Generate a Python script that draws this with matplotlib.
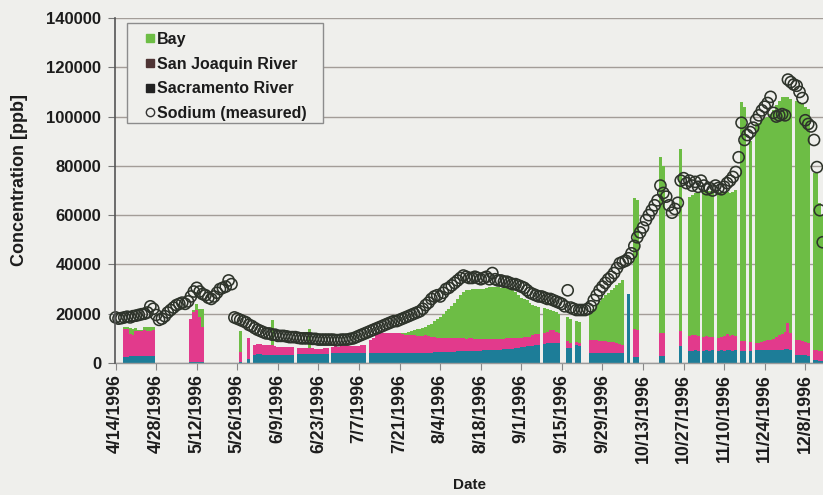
import numpy as np
import matplotlib
matplotlib.use("Agg")
import matplotlib.pyplot as plt
from matplotlib.lines import Line2D
from matplotlib.patches import Rectangle

# ---------------- data (day index 0 = 4/14/1996) ----------------
TICK_DAYS = [0, 14, 28, 42, 56, 70, 84, 98, 112, 126, 140, 154, 168, 182, 196, 210, 224, 238]
TICK_LABELS = ["4/14/1996", "4/28/1996", "5/12/1996", "5/26/1996", "6/9/1996", "6/23/1996",
               "7/7/1996", "7/21/1996", "8/4/1996", "8/18/1996", "9/1/1996", "9/15/1996",
               "9/29/1996", "10/13/1996", "10/27/1996", "11/10/1996", "11/24/1996", "12/8/1996"]

SODIUM = [
    18500, 18000, 18200, 18500, 18800, 18500, 19000, 19200, 19500, 19800,
    20000, 20500, 23000, 22000, 19500, 17500, 18000, 19000, 20500, 21500,
    22500, 23500, 24000, 24500, 24000, 25000, 27000, 29000, 30500, 29000,
    28000, 27500, 26500, 26000, 27000, 28500, 30000, 30500, 31000, 33500,
    32000, 18500, 18000, 17500, 17000, 16500, 15500, 15000, 14200, 13500,
    13000, 12500, 12000, 12000, 11500, 11500, 11000, 11000, 11000, 10800,
    10500, 10500, 10500, 10200, 10000, 10000, 10000, 10000, 9800, 9800,
    9500, 9500, 9500, 9500, 9500, 9500, 9300, 9300, 9500, 9500,
    9500, 9800, 10000, 10500, 11000, 11500, 12000, 12500, 13000, 13500,
    14000, 14500, 15000, 15500, 16000, 16500, 17000, 17000, 17500, 18000,
    18500, 19000, 19500, 20000, 20500, 21000, 22000, 23500, 24500, 26000,
    27000, 27500, 27000, 28500, 30000, 30500, 31500, 32500, 33500, 34500,
    35500, 35000, 34500, 34500, 35000, 34500, 34000, 34500, 35000, 34000,
    36500, 34000, 33500, 33500, 33000, 33000, 32500, 32000, 32000, 31500,
    31000, 30500, 29500, 28500, 28000, 27500, 27000, 27000, 26500, 26000,
    26000, 25500, 25000, 24500, 24000, 23000, 29500, 22500, 22000, 21500,
    21500, 21500, 21500, 22000, 23000, 25500, 27500, 29500, 31000, 32500,
    34000, 35000, 36500, 38500, 40500, 41000, 41500, 42500, 44500, 47500,
    51000, 53000, 55000, 58000, 60000, 62000, 64000, 66000, 72000, 69000,
    67500, 64000, 61000, 62500, 65000, 74000, 75000, 73000, 74000, 72000,
    73500, 71500, 74000, 72000, 70500, 71000, 70000, 72000, 71000, 70500,
    71500, 73000, 74000, 75500, 77500, 83500, 97500, 90500, 92500, 93700,
    95500, 98600, 100500, 102500, 104000, 105500, 108000, 101500, 100000, 100500,
    101000, 100500, 115000, 114000, 113000, 112500, 110000, 107500, 98500, 97000,
    96000, 90500, 79500, 62000, 49000,
]

SACRAMENTO = [
    0, 0, 0, 2500, 2500, 2800, 2800, 3000, 3000, 3000,
    2800, 2800, 2800, 3000, 0, 0, 0, 0, 0, 0,
    0, 0, 0, 0, 0, 0, 500, 500, 500, 500,
    500, 0, 0, 0, 0, 0, 0, 0, 0, 0,
    0, 0, 0, 500, 0, 0, 1500, 0, 3400, 3500,
    3500, 3300, 3300, 3400, 3400, 3300, 3200, 3200, 3300, 3300,
    3400, 3400, 0, 3600, 3700, 3700, 3800, 3700, 3700, 3600,
    3700, 3800, 3700, 3800, 0, 4000, 4000, 3900, 4000, 4000,
    4100, 4000, 4000, 4100, 4000, 4000, 4000, 0, 4000, 4000,
    4000, 4100, 4000, 4000, 4100, 4000, 4000, 4000, 4100, 4000,
    4000, 4000, 4100, 4000, 4000, 4100, 4000, 4200, 4200, 4200,
    4300, 4300, 4400, 4400, 4500, 4500, 4600, 4600, 4700, 4700,
    4800, 4800, 4800, 4900, 4900, 5000, 5000, 5100, 5100, 5200,
    5200, 5300, 5300, 5400, 5500, 5600, 5700, 5800, 6000, 6200,
    6300, 6500, 6700, 6900, 7000, 7200, 7400, 0, 7800, 8000,
    8100, 8200, 8300, 8200, 0, 0, 6000, 6000, 0, 7500,
    7000, 0, 0, 0, 4000, 4000, 4100, 4000, 4000, 4100,
    4000, 4000, 4100, 4000, 4000, 4000, 0, 28000, 0, 2500,
    2500, 0, 0, 0, 0, 0, 0, 0, 3000, 3000,
    0, 0, 0, 0, 0, 7000, 0, 0, 5000, 5000,
    5200, 5000, 0, 5000, 5200, 5000, 5100, 0, 5000, 5200,
    5000, 5100, 5200, 5000, 5100, 0, 5000, 5000, 0, 5000,
    0, 5300, 5300, 5200, 5300, 5400, 5300, 5400, 5400, 5300,
    5400, 5500, 5600, 5300, 0, 3300, 3300, 3200, 3200, 3000,
    0, 1200, 1200, 1000, 1000,
]

SAN_JOAQUIN = [
    0, 0, 0, 11500, 11500, 9000, 8500, 10000, 10000, 10000,
    10500, 10000, 10000, 10500, 0, 0, 0, 0, 0, 0,
    0, 0, 0, 0, 0, 0, 17500, 20000, 21000, 18000,
    14000, 0, 0, 0, 0, 0, 0, 0, 0, 0,
    0, 0, 0, 4000, 0, 0, 8500, 0, 4000, 4200,
    4300, 4200, 4000, 4100, 4000, 3500, 3300, 3200, 3000, 3100,
    3000, 3000, 0, 2500, 2400, 2300, 2400, 2200, 2300, 2200,
    2100, 2000, 2200, 2100, 0, 2600, 2800, 2700, 2800, 2900,
    2800, 2700, 2800, 2900, 3000, 3200, 3500, 0, 5500, 6000,
    8000, 8200, 8100, 8300, 8200, 8000, 8100, 8200, 8000, 7600,
    7500, 7400, 7300, 7200, 7000, 7000, 7100, 7000, 6800, 6500,
    6200, 6000, 5800, 5600, 5500, 5700, 5400, 5500, 5300, 5300,
    5200, 5000, 5200, 5100, 5000, 4800, 4900, 4700, 4800, 4600,
    4700, 4600, 4500, 4500, 4400, 4500, 4300, 4300, 4200, 4000,
    4000, 3900, 3800, 3800, 4200, 4400, 4300, 0, 4400, 4500,
    5200, 5200, 4200, 4000, 0, 0, 3000, 2000, 0, 1000,
    1000, 0, 0, 0, 5500, 5300, 5200, 5000, 5000, 4800,
    4600, 4500, 4300, 4000, 3800, 3500, 0, 0, 0, 11500,
    11000, 0, 0, 0, 0, 0, 0, 0, 9000, 9000,
    0, 0, 0, 0, 0, 6000, 0, 0, 6000, 6200,
    6000, 5800, 0, 5500, 5700, 5500, 5400, 0, 5200, 5500,
    5800, 6500, 5800, 6200, 6000, 0, 4000, 3800, 0, 3500,
    0, 2800, 3000, 3200, 3500, 4000, 4200, 4500, 5000, 6000,
    6500, 7000, 10500, 7000, 0, 6200, 6000, 5800, 5500, 5000,
    0, 4200, 4200, 4000, 4000,
]

BAY = [
    0, 0, 0, 500, 500, 2500, 2500, 1000, 500, 500,
    1500, 2000, 2000, 1000, 0, 0, 0, 0, 0, 0,
    0, 0, 0, 0, 0, 0, 0, 1000, 2500, 3500,
    7500, 0, 0, 0, 0, 0, 0, 0, 0, 0,
    0, 0, 0, 8500, 0, 0, 0, 0, 0, 0,
    0, 0, 0, 0, 10000, 0, 0, 0, 0, 0,
    0, 0, 0, 0, 0, 0, 0, 8000, 0, 0,
    0, 0, 0, 0, 0, 0, 0, 0, 0, 0,
    0, 0, 0, 0, 0, 0, 0, 0, 0, 0,
    0, 0, 0, 0, 0, 0, 0, 0, 0, 400,
    700, 1100, 1600, 2100, 2600, 2900, 3100, 3400, 4500, 5300,
    6500, 7700, 8500, 10000, 11000, 11800, 13000, 14400, 16000, 17500,
    19000, 19800, 19800, 20000, 20100, 20200, 20100, 20400, 20600, 21000,
    21100, 21100, 21000, 20700, 20600, 20400, 20000, 19400, 18800, 17300,
    16200, 15600, 15100, 13800, 12300, 11400, 11000, 0, 10100, 9500,
    8200, 7600, 8200, 7800, 0, 0, 9500, 10000, 0, 8500,
    8700, 0, 0, 0, 11200, 12700, 14200, 16000, 17500, 18600,
    19900, 21000, 22100, 23500, 24700, 26200, 0, 0, 0, 53000,
    52500, 0, 0, 0, 0, 0, 0, 0, 71600, 68000,
    0, 0, 0, 0, 0, 74000, 0, 0, 56500, 56800,
    57800, 58700, 0, 59700, 59300, 59500, 59500, 0, 59300, 58800,
    58700, 57900, 58000, 58300, 58900, 0, 97000, 95200, 0, 81500,
    0, 88900, 89200, 90100, 90700, 90600, 91500, 92600, 94100, 95200,
    96100, 95500, 91900, 94700, 0, 97000, 96700, 96000, 95300, 95000,
    0, 71600, 71600, 60000, 55000,
]

SERIES_LABELS = ["Bay", "San Joaquin River", "Sacramento River", "Sodium (measured)"]

# ---------------- styling ----------------
BG = "#efefec"
C_SAC = "#1d7d98"
C_SJR = "#e23a8c"
C_BAY = "#6dbd45"
C_TXT = "#1c1c1c"
FONT = "Liberation Sans"

n = len(SODIUM)
assert len(SACRAMENTO) == n and len(SAN_JOAQUIN) == n and len(BAY) == n
days = np.arange(n)
sac = np.array(SACRAMENTO, float)
sjr = np.array(SAN_JOAQUIN, float)
bay = np.array(BAY, float)
na = np.array(SODIUM, float)

W, H = 823, 495
fig = plt.figure(figsize=(W / 100, H / 100), dpi=100, facecolor=BG)
L, R, T, B = 115, 823, 18, 363
ax = fig.add_axes([L / W, 1 - B / H, (R - L) / W, (B - T) / H], facecolor=BG)

ax.bar(days, sac, width=1.0, color=C_SAC, linewidth=0, zorder=2)
ax.bar(days, sjr, width=1.0, bottom=sac, color=C_SJR, linewidth=0, zorder=2)
ax.bar(days, bay, width=1.0, bottom=sac + sjr, color=C_BAY, linewidth=0, zorder=2)
ax.scatter(days, na, s=64, facecolors="none", edgecolors="#2e342b", linewidths=1.15,
           zorder=4, clip_on=False)

ax.set_xlim(-0.2, 244.1)
ax.set_ylim(0, 140000)
ax.set_yticks(np.arange(0, 140001, 20000))
ax.set_yticklabels([str(v) for v in range(0, 140001, 20000)])
ax.set_xticks(TICK_DAYS)
ax.set_xticklabels(TICK_LABELS, rotation=90)

ax.set_axisbelow(True)
ax.yaxis.grid(True, color="#a39d98", linewidth=1.0, zorder=0)
ax.xaxis.grid(False)
for s in ("top", "right"):
    ax.spines[s].set_visible(False)
ax.spines["left"].set_color("#555555")
ax.spines["left"].set_linewidth(1.2)
ax.spines["bottom"].set_color("#9a9a9a")
ax.spines["bottom"].set_linewidth(1.0)
ax.spines["left"].set_zorder(5)

ax.tick_params(axis="y", length=5, color="#777777", pad=5, labelsize=12, labelcolor=C_TXT)
ax.tick_params(axis="x", length=5, color="#888888", pad=3, labelsize=12.8, labelcolor=C_TXT)
for lab in ax.get_yticklabels() + ax.get_xticklabels():
    lab.set_fontfamily(FONT)
    lab.set_fontweight("bold")

ax.set_ylabel("Concentration [ppb]", fontfamily=FONT, fontweight="bold", fontsize=13, color=C_TXT)
ax.yaxis.set_label_coords(-0.123, 0.53)
ax.set_xlabel("Date", fontfamily=FONT, fontweight="bold", fontsize=11, color=C_TXT)
ax.xaxis.set_label_coords(0.5, -0.333)

# legend box
fig.patches.append(Rectangle((127 / W, 1 - 123 / H), (323 - 127) / W, (123 - 23) / H,
                             transform=fig.transFigure, facecolor=BG, edgecolor="#8c8c8c",
                             linewidth=1.0, zorder=10))
handles = [
    Line2D([], [], marker="s", ls="none", color=C_BAY, markersize=5.5),
    Line2D([], [], marker="s", ls="none", color="#4e3434", markersize=5.5),
    Line2D([], [], marker="s", ls="none", color="#222222", markersize=5.5),
    Line2D([], [], marker="o", ls="none", markerfacecolor="none", markeredgecolor="#333333",
           markersize=6, markeredgewidth=1.0),
]
leg = fig.legend(handles, SERIES_LABELS, loc="upper left", bbox_to_anchor=(137 / W, 1 - 24 / H),
                 frameon=False, borderpad=0, handlelength=0.6, handletextpad=0.15,
                 labelspacing=0.6, prop={"family": FONT, "weight": "bold", "size": 11.5})
leg.set_zorder(11)
for t in leg.get_texts():
    t.set_color(C_TXT)

fig.savefig("out.png", dpi=100, facecolor=BG)
